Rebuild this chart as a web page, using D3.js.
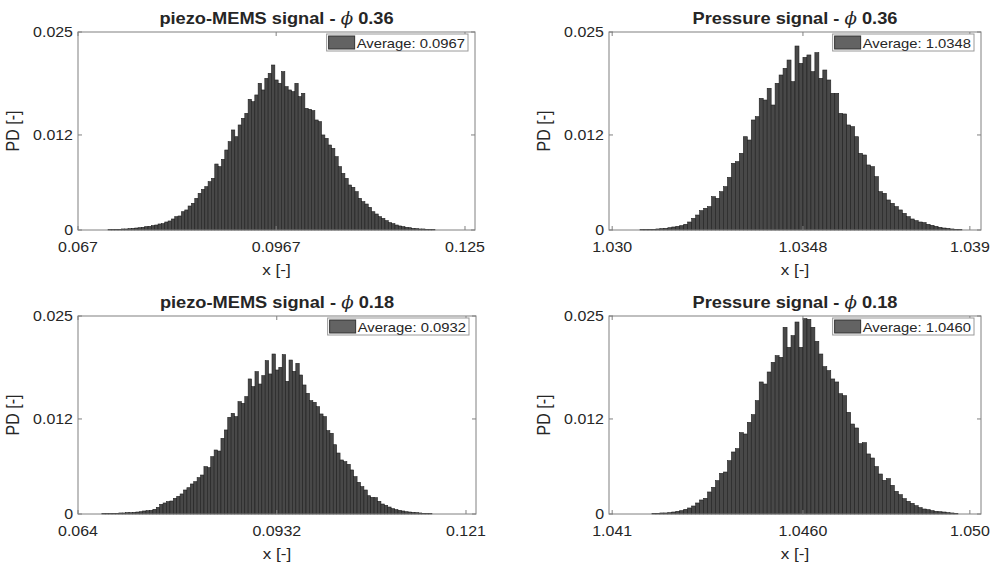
<!DOCTYPE html>
<html lang="en">
<head>
<meta charset="UTF-8">
<title>PD histograms</title>
<script src="https://cdn.jsdelivr.net/npm/d3@7"></script>
<style>
  body { margin: 0; background: #fff; }
  text { font-family: "Liberation Sans", Arial, sans-serif; fill: #262626; }
</style>
</head>
<body>
<script>

var w = 998;
var h = 563;
var SX = 1.14; // the picture is a bit wider than it is tall, so text is stretched

// bin starts / widths of each histogram
var binStart = [0.0705, 1.0306, 0.0665, 1.0422];
var binWidth = [0.0005, 0.0001, 0.0005, 0.0001];

// piezo-MEMS, phi 0.36
var pd1 = [0,0,0.00004,0.00004,0.00008,0.00008,0.00013,0.00013,0.00017,0.00021,
  0.00025,0.00029,0.00034,0.00042,0.00046,0.00055,0.00063,0.00076,0.00080,0.00101,
  0.00114,0.00139,0.00168,0.00177,0.00231,0.00253,0.00303,0.00337,0.00400,0.00463,
  0.00513,0.00547,0.00610,0.00652,0.00833,0.00800,0.00892,0.01010,0.01115,0.01263,
  0.01178,0.01326,0.01410,0.01473,0.01650,0.01620,0.01705,0.01852,0.01768,0.01915,
  0.01978,0.02083,0.01894,0.01852,0.01999,0.01810,0.01768,0.01747,0.01852,0.01684,
  0.01726,0.01536,0.01524,0.01507,0.01389,0.01368,0.01200,0.01157,0.01073,0.01031,
  0.00926,0.00800,0.00715,0.00652,0.00568,0.00539,0.00484,0.00400,0.00358,0.00328,
  0.00286,0.00231,0.00202,0.00168,0.00147,0.00118,0.00093,0.00080,0.00063,0.00051,
  0.00042,0.00034,0.00029,0.00021,0.00017,0.00013,0.00013,0.00008,0.00004,0.00004,0];

// pressure, phi 0.36
var pd2 = [0,0.00004,0.00004,0.00008,0.00008,0.00013,0.00017,0.00021,0.00029,0.00038,
  0.00046,0.00055,0.00072,0.00101,0.00147,0.00189,0.00244,0.00274,0.00295,0.00421,
  0.00400,0.00484,0.00547,0.00665,0.00842,0.00863,0.00968,0.01178,0.01136,0.01389,
  0.01431,0.01662,0.01641,0.01789,0.01578,0.01852,0.01957,0.02041,0.02146,0.01873,
  0.02323,0.02104,0.02180,0.02210,0.01999,0.02239,0.01915,0.02020,0.01894,0.01726,
  0.01726,0.01473,0.01465,0.01326,0.01305,0.01178,0.00968,0.00947,0.00821,0.00800,
  0.00673,0.00484,0.00463,0.00379,0.00337,0.00295,0.00253,0.00210,0.00168,0.00139,
  0.00118,0.00101,0.00093,0.00072,0.00059,0.00046,0.00034,0.00025,0.00021,0.00013,
  0.00008,0.00004];

// piezo-MEMS, phi 0.18
var pd3 = [0,0,0.00004,0.00004,0.00004,0.00008,0.00008,0.00013,0.00013,0.00017,
  0.00017,0.00021,0.00025,0.00029,0.00038,0.00042,0.00046,0.00059,0.00084,0.00122,
  0.00139,0.00156,0.00164,0.00198,0.00223,0.00253,0.00303,0.00332,0.00379,0.00408,
  0.00459,0.00492,0.00598,0.00585,0.00724,0.00808,0.00795,0.00955,0.01061,0.01221,
  0.01271,0.01229,0.01418,0.01397,0.01482,0.01705,0.01608,0.01797,0.01641,0.01747,
  0.01936,0.01768,0.02020,0.01818,0.01852,0.02012,0.01675,0.01944,0.01801,0.01902,
  0.01755,0.01629,0.01524,0.01431,0.01410,0.01355,0.01263,0.01229,0.01052,0.01019,
  0.00875,0.00770,0.00682,0.00661,0.00627,0.00556,0.00471,0.00400,0.00345,0.00303,
  0.00231,0.00210,0.00206,0.00160,0.00126,0.00109,0.00088,0.00067,0.00055,0.00046,
  0.00038,0.00029,0.00025,0.00021,0.00017,0.00013,0.00008,0.00004,0.00004];

// pressure, phi 0.18
var pd4 = [0.00008,0.00008,0.00013,0.00013,0.00017,0.00025,0.00034,0.00042,0.00059,0.00076,
  0.00101,0.00139,0.00177,0.00198,0.00278,0.00337,0.00421,0.00513,0.00530,0.00673,
  0.00783,0.00825,0.01027,0.01010,0.01157,0.01254,0.01431,0.01667,0.01641,0.01793,
  0.01915,0.01999,0.01978,0.02357,0.02104,0.02252,0.02424,0.02104,0.02466,0.02458,
  0.02357,0.02180,0.02020,0.01860,0.01810,0.01705,0.01667,0.01519,0.01494,0.01284,
  0.01136,0.01086,0.00888,0.00901,0.00758,0.00707,0.00598,0.00505,0.00425,0.00446,
  0.00362,0.00286,0.00244,0.00194,0.00160,0.00135,0.00105,0.00080,0.00063,0.00055,
  0.00042,0.00034,0.00029,0.00025,0.00017,0.00013,0.00008];

var titles = ["piezo-MEMS signal - ", "Pressure signal - ", "piezo-MEMS signal - ", "Pressure signal - "];
var phis = ["0.36", "0.36", "0.18", "0.18"];
var averages = ["0.0967", "1.0348", "0.0932", "1.0460"];

var xDomains = [[0.067, 0.1265], [1.02992, 1.03928], [0.064, 0.12247], [1.04112, 1.05048]];
var xTicks = [[0.067, 0.0967, 0.125], [1.030, 1.0348, 1.039], [0.064, 0.0932, 0.121], [1.0412, 1.0460, 1.0502]];
var xTickLabels = [["0.067", "0.0967", "0.125"], ["1.030", "1.0348", "1.039"],
                   ["0.064", "0.0932", "0.121"], ["1.041", "1.0460", "1.050"]];
var yTicks = [0, 0.012, 0.025];
var yTickLabels = ["0", "0.012", "0.025"];

var allPd = [pd1, pd2, pd3, pd4];

// axes boxes [left, top, right, bottom]
var boxes = [[78, 32, 475, 230], [609, 32, 981, 230], [78, 316, 476, 514], [609, 316, 981, 514]];

var svg = d3.select("body").append("svg")
    .attr("width", w)
    .attr("height", h);

function placeText(sel, x, y) {
    return sel.attr("transform", "translate(" + x + "," + y + ") scale(" + SX + ",1)");
}

function drawPanel(k) {
    var b = boxes[k];
    var xs = d3.scaleLinear().domain(xDomains[k]).range([b[0], b[2]]);
    var ys = d3.scaleLinear().domain([0, 0.025]).range([b[3], b[1]]);
    var g = svg.append("g");
    var s0 = binStart[k], bw = binWidth[k];

    g.selectAll("rect.bar")
        .data(allPd[k])
        .enter()
        .append("rect")
        .attr("class", "bar")
        .attr("x", function(d, i) { return xs(s0 + i * bw); })
        .attr("width", function(d, i) { return xs(s0 + (i + 1) * bw) - xs(s0 + i * bw); })
        .attr("y", function(d) { return ys(d); })
        .attr("height", function(d) { return ys(0) - ys(d); })
        .attr("fill", "#484848")
        .attr("stroke", "#1e1e1e")
        .attr("stroke-width", 0.6);

    // box
    g.append("rect")
        .attr("x", b[0]).attr("y", b[1])
        .attr("width", b[2] - b[0]).attr("height", b[3] - b[1])
        .attr("fill", "none").attr("stroke", "#808080").attr("stroke-width", 1);

    // x ticks (inside, mirrored on top)
    xTicks[k].forEach(function(t, i) {
        var x = xs(t);
        g.append("line").attr("x1", x).attr("x2", x).attr("y1", b[3]).attr("y2", b[3] - 4)
            .attr("stroke", "#808080");
        g.append("line").attr("x1", x).attr("x2", x).attr("y1", b[1]).attr("y2", b[1] + 4)
            .attr("stroke", "#808080");
        placeText(g.append("text"), x, b[3] + 22)
            .attr("text-anchor", "middle")
            .attr("font-size", 14)
            .text(xTickLabels[k][i]);
    });

    yTicks.forEach(function(t, i) {
        var y = ys(t);
        g.append("line").attr("x1", b[0]).attr("x2", b[0] + 4).attr("y1", y).attr("y2", y)
            .attr("stroke", "#808080");
        g.append("line").attr("x1", b[2]).attr("x2", b[2] - 4).attr("y1", y).attr("y2", y)
            .attr("stroke", "#808080");
        placeText(g.append("text"), b[0] - 5, y + 5)
            .attr("text-anchor", "end")
            .attr("font-size", 14)
            .text(yTickLabels[i]);
    });

    var cx = (b[0] + b[2]) / 2;
    placeText(g.append("text"), cx, b[3] + 45)
        .attr("text-anchor", "middle")
        .attr("font-size", 15)
        .text("x [-]");

    g.append("text")
        .attr("transform", "translate(" + (b[0] - 59) + "," + ((b[1] + b[3]) / 2) + ") rotate(-90) scale(1," + SX + ")")
        .attr("text-anchor", "middle")
        .attr("font-size", 16)
        .text("PD [-]");

    var title = placeText(g.append("text"), cx, b[1] - 8)
        .attr("text-anchor", "middle")
        .attr("font-size", 16)
        .attr("font-weight", "bold");
    title.append("tspan").text(titles[k]);
    title.append("tspan").attr("font-style", "italic").attr("font-weight", "normal")
        .attr("font-family", "DejaVu Serif").text("\u03d5");
    title.append("tspan").text(" " + phis[k]);

    // legend
    var lg = g.append("g");
    var lt = placeText(lg.append("text"), 0, 0)
        .attr("font-size", 13)
        .text("Average: " + averages[k]);
    var tw = lt.node().getComputedTextLength() * SX;
    var lw = 2 + 26 + 2 + tw + 3;
    var lx = b[2] - 7 - lw, ly = b[1] + 2;
    lg.insert("rect", "text")
        .attr("x", lx).attr("y", ly).attr("width", lw).attr("height", 17)
        .attr("fill", "#fff").attr("stroke", "#9a9a9a");
    lg.insert("rect", "text")
        .attr("x", lx + 2).attr("y", ly + 2).attr("width", 26).attr("height", 13)
        .attr("fill", "#636363").attr("stroke", "#333");
    placeText(lt, lx + 30, ly + 13.5);
}

for (var k = 0; k < 4; k++) {
    drawPanel(k);
}

</script>
</body>
</html>
